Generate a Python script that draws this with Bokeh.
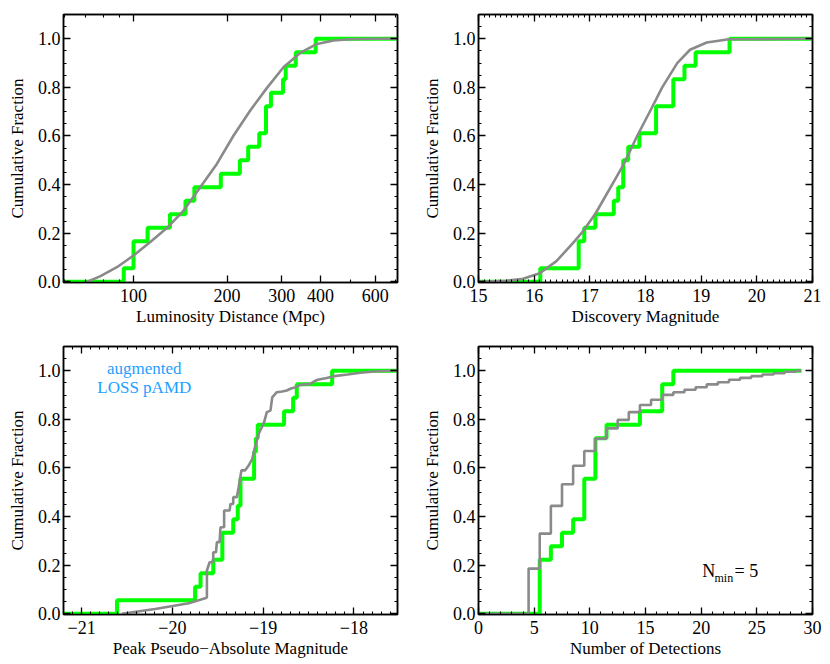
import numpy as np
from bokeh.plotting import figure
from bokeh.layouts import gridplot
from bokeh.models import (Range1d, FixedTicker, SingleIntervalTicker, LinearAxis, LogAxis,
                          Label, CustomJSTickFormatter)
from bokeh.embed import file_html
from bokeh.resources import INLINE

# ---------------- data ----------------
# Panel 1: luminosity distance (Mpc)
dist_sample = [93, 100, 100, 111, 131, 147, 157, 191, 220, 234, 254, 267, 267, 277, 303, 309, 333, 386]
dist_model_x = [70, 71, 78, 88.4, 100, 113, 128, 145, 164, 185.5, 210, 237.6, 269, 304, 344, 390, 441, 499, 600, 710]
dist_model_y = [-0.01, 0.0, 0.022, 0.06, 0.108, 0.163, 0.221, 0.293, 0.389, 0.485, 0.602, 0.705, 0.798, 0.883,
                0.942, 0.979, 0.993, 0.998, 1.0, 1.0]
dist_major = [100, 200, 300, 400, 600]
dist_minor = [60, 70, 80, 90, 500, 700]

# Panel 2: discovery magnitude
mag_sample = [16.11, 16.80, 16.80, 16.90, 17.10, 17.43, 17.51, 17.60, 17.60, 17.69, 17.89, 18.19, 18.19,
              18.50, 18.50, 18.70, 18.90, 19.51]
mag_model_x = [15.0, 15.5, 15.8, 16.1, 16.4, 16.7, 16.85, 17.1, 17.4, 17.6, 17.85, 18.1, 18.3, 18.57, 18.8,
               19.1, 19.5, 21.0]
mag_model_y = [0.0, 0.004, 0.012, 0.035, 0.085, 0.16, 0.2, 0.28, 0.40, 0.48, 0.6, 0.71, 0.8, 0.9, 0.955,
               0.985, 0.998, 1.0]

# Panel 3: peak pseudo-absolute magnitude
pamd_sample = [-20.61, -19.75, -19.69, -19.55, -19.45, -19.45, -19.33, -19.28, -19.25, -19.25,
               -19.10, -19.10, -19.08, -19.06, -18.77, -18.67, -18.63, -18.24]
pamd_loss_x = [-20.56, -20.19, -19.82, -19.63, -19.62, -19.62, -19.59, -19.55, -19.55, -19.52, -19.51,
               -19.48, -19.47, -19.43, -19.43, -19.37, -19.36, -19.33, -19.33, -19.29, -19.27, -19.24,
               -19.20, -19.16, -19.12, -19.09, -19.05, -18.99, -18.96, -18.92, -18.90, -18.85, -18.79,
               -18.74, -18.70, -18.645, -18.59, -18.48, -18.44, -18.40, -18.30, -18.22, -18.07, -17.93,
               -17.78, -17.59, -17.52]
pamd_loss_y = [0.0, 0.02, 0.043, 0.065, 0.068, 0.178, 0.212, 0.212, 0.253, 0.253, 0.295,
               0.295, 0.356, 0.356, 0.425, 0.425, 0.452, 0.452, 0.48, 0.48, 0.521, 0.59,
               0.59, 0.61, 0.638, 0.686, 0.74, 0.788, 0.83, 0.836, 0.891, 0.912, 0.915,
               0.919, 0.926, 0.932, 0.942, 0.946, 0.956, 0.963, 0.97, 0.978, 0.985, 0.992,
               0.997, 1.0, 1.0]

# Panel 4: number of detections
det_sample = [6, 6, 6, 6, 7, 8, 9, 10, 10, 10, 11, 11, 11, 12, 15, 17, 17, 18]
det_n = list(range(0, 30))
det_loss_cdf = [0, 0, 0, 0, 0, 0.186, 0.33, 0.444, 0.533, 0.609, 0.67, 0.721, 0.763, 0.798, 0.83,
                0.859, 0.881, 0.901, 0.912, 0.922, 0.932, 0.944, 0.953, 0.963, 0.971, 0.978, 0.985,
                0.99, 0.996, 1.0]

y_major = [0.0, 0.2, 0.4, 0.6, 0.8, 1.0]
y_minor = [0.05, 0.1, 0.15, 0.25, 0.3, 0.35, 0.45, 0.5, 0.55, 0.65, 0.7, 0.75, 0.85, 0.9, 0.95, 1.05]

GREEN = "#00FF00"
GRAY = "#8A8A8A"
BLUE = "#1EA0FF"
FONT = "'Liberation Serif', 'Times New Roman', serif"


def ecdf(values, lo, hi):
    v = sorted(values)
    n = len(v)
    xs = [lo] + v + [hi]
    ys = [0.0] + [(i + 1) / n for i in range(n)] + [1.0]
    return xs, ys


def style_axis(ax, label_size="18px"):
    ax.axis_line_width = 1.5
    ax.axis_line_color = "black"
    ax.major_tick_in = 7
    ax.major_tick_out = 0
    ax.minor_tick_in = 3
    ax.minor_tick_out = 0
    ax.major_tick_line_color = "black"
    ax.minor_tick_line_color = "black"
    ax.major_tick_line_width = 1.3
    ax.minor_tick_line_width = 1.1
    ax.major_label_text_font = FONT
    ax.major_label_text_font_size = label_size
    ax.major_label_text_color = "black"
    ax.axis_label_text_font = FONT
    ax.axis_label_text_font_size = "17px"
    ax.axis_label_text_font_style = "normal"
    ax.axis_label_text_color = "black"


blank_fmt = CustomJSTickFormatter(code="return '';")


def make_panel(x_range, xlabel, x_ticker, x_formatter, left, right, x_type="linear"):
    p = figure(width=415, height=332, x_range=x_range, y_range=Range1d(-0.003, 1.1),
               x_axis_type=x_type, output_backend="svg", toolbar_location=None,
               min_border_left=left, min_border_right=right, min_border_top=14,
               min_border_bottom=50)
    p.grid.visible = False
    p.outline_line_color = "black"
    p.outline_line_width = 1.5
    p.background_fill_color = "white"
    p.border_fill_color = "white"

    yt = FixedTicker(ticks=y_major, minor_ticks=y_minor)
    yax = p.yaxis[0]
    yax.ticker = yt
    yax.formatter = CustomJSTickFormatter(code="return tick.toFixed(1);")
    yax.axis_label = "Cumulative Fraction"
    style_axis(yax)
    yax.major_label_standoff = 3
    yax.axis_label_standoff = 8

    xax = p.xaxis[0]
    xax.ticker = x_ticker
    xax.formatter = x_formatter
    xax.axis_label = xlabel
    style_axis(xax)
    xax.major_label_standoff = 6
    xax.axis_label_standoff = 2

    AxisCls = LogAxis if x_type == "log" else LinearAxis
    top = AxisCls(ticker=x_ticker, formatter=blank_fmt, major_label_standoff=0)
    style_axis(top, "1px")
    p.add_layout(top, "above")
    rt = LinearAxis(ticker=yt, formatter=blank_fmt, major_label_standoff=0)
    style_axis(rt, "1px")
    p.add_layout(rt, "right")
    return p


int_fmt = CustomJSTickFormatter(code="return (tick < 0 ? '\u2212' : '') + Math.abs(tick).toFixed(0);")

# ---- Panel 1 ----
p1 = make_panel(Range1d(59.5, 708), "Luminosity Distance (Mpc)",
                FixedTicker(ticks=dist_major, minor_ticks=dist_minor), int_fmt, 63, 18, x_type="log")
x, y = ecdf(dist_sample, 59.5, 708)
p1.step(x, y, mode="after", line_color=GREEN, line_width=4)
p1.line(dist_model_x, dist_model_y, line_color=GRAY, line_width=2.6)

# ---- Panel 2 ----
p2 = make_panel(Range1d(15, 21), "Discovery Magnitude",
                SingleIntervalTicker(interval=1, num_minor_ticks=10), int_fmt, 63, 18)
x, y = ecdf(mag_sample, 15, 21)
p2.step(x, y, mode="after", line_color=GREEN, line_width=4)
p2.line(mag_model_x, mag_model_y, line_color=GRAY, line_width=2.6)

# ---- Panel 3 ----
p3 = make_panel(Range1d(-21.2, -17.52), "Peak Pseudo\u2212Absolute Magnitude",
                SingleIntervalTicker(interval=1, num_minor_ticks=10), int_fmt, 63, 18)
x, y = ecdf(pamd_sample, -21.2, -17.52)
p3.step(x, y, mode="after", line_color=GREEN, line_width=4)
p3.line(pamd_loss_x, pamd_loss_y, line_color=GRAY, line_width=2.6)
p3.add_layout(Label(x=-20.31, y=1.011, text="augmented", text_font=FONT, text_font_size="17px",
                    text_color=BLUE, text_align="center", text_baseline="middle"))
p3.add_layout(Label(x=-20.31, y=0.931, text="LOSS pAMD", text_font=FONT, text_font_size="17px",
                    text_color=BLUE, text_align="center", text_baseline="middle"))

# ---- Panel 4 ----
p4 = make_panel(Range1d(0, 30), "Number of Detections",
                SingleIntervalTicker(interval=5, num_minor_ticks=5), int_fmt, 63, 18)
det_counts = [sum(1 for d in det_sample if d <= n) / len(det_sample) for n in det_n]
p4.step(det_n, det_counts, mode="center", line_color=GREEN, line_width=4)
p4.step(det_n, det_loss_cdf, mode="center", line_color=GRAY, line_width=2.6)
p4.add_layout(Label(x=20.1, y=0.174, text="N", text_font=FONT, text_font_size="18px",
                    text_color="black", text_align="left", text_baseline="middle"))
p4.add_layout(Label(x=21.2, y=0.148, text="min", text_font=FONT, text_font_size="12px",
                    text_color="black", text_align="left", text_baseline="middle"))
p4.add_layout(Label(x=23.0, y=0.174, text="= 5", text_font=FONT, text_font_size="18px",
                    text_color="black", text_align="left", text_baseline="middle"))

grid = gridplot([[p1, p2], [p3, p4]], toolbar_location=None)

with open("out.html", "w") as f:
    f.write(file_html(grid, INLINE))
